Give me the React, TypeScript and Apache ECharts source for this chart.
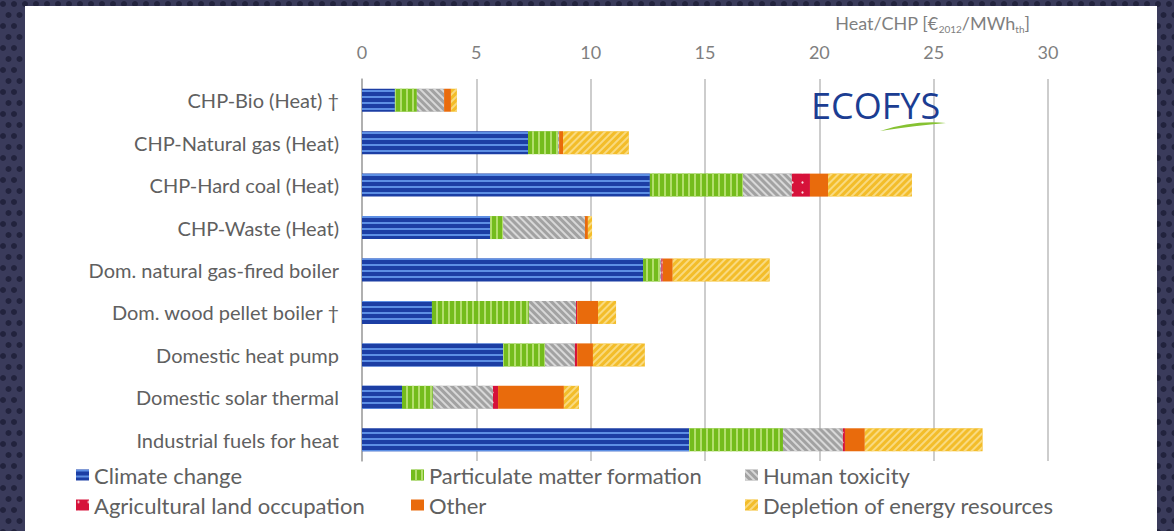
import React, { useEffect, useRef } from "react";
import * as echarts from "echarts";

const categories = [
  "CHP-Bio (Heat) †",
  "CHP-Natural gas (Heat)",
  "CHP-Hard coal (Heat)",
  "CHP-Waste (Heat)",
  "Dom. natural gas-fired boiler",
  "Dom. wood pellet boiler †",
  "Domestic heat pump",
  "Domestic solar thermal",
  "Industrial fuels for heat",
];

const climateChange = [1.44, 7.26, 12.59, 5.6, 12.29, 3.06, 6.17, 1.75, 14.3];
const particulateMatter = [0.96, 1.31, 4.07, 0.57, 0.74, 4.24, 1.83, 1.35, 4.11];
const humanToxicity = [1.19, 0.05, 2.14, 3.58, 0.06, 2.06, 1.31, 2.63, 2.62];
const agriculturalLand = [0, 0, 0.79, 0, 0.06, 0.05, 0.1, 0.22, 0.09];
const other = [0.3, 0.17, 0.79, 0.13, 0.44, 0.91, 0.69, 2.88, 0.87];
const depletion = [0.26, 2.88, 3.67, 0.18, 4.24, 0.79, 2.27, 0.66, 5.15];

const xTicks = [0, 5, 10, 15, 20, 25, 30];

const swooshD = "M0 8 Q 34 -3 66 0 Q 36 2.5 0 8 Z";

echarts.graphic.registerShape("swoosh", echarts.graphic.extendPath(swooshD, {}) as any);

function backgroundDots() {
  const dots: any[] = [];
  const step = 11;
  for (let row = 0; row * step < 540; row++) {
    const y = row * step + 4;
    const off = row % 2 === 0 ? 0 : step / 2;
    for (let x = off + 3; x < 1180; x += step) {
      const inLeft = x < 25;
      const inRight = x > 1157;
      const inTop = y < 6;
      if (inLeft || inRight || inTop) {
        dots.push({ type: "circle", z: -20, silent: true, shape: { cx: x, cy: y, r: 3 }, style: { fill: "#22233d" } });
      }
    }
  }
  return dots;
}

export default function App() {
  const ref = useRef<HTMLDivElement>(null);
  useEffect(() => {
    if (!ref.current) return;
    const chart = echarts.init(ref.current, undefined, { renderer: "svg" });
    const font = "Lato, 'Open Sans', sans-serif";
    const mkSeries = (name: string, data: number[], color: string, decal?: any) => ({
      name,
      type: "bar",
      stack: "total",
      barWidth: 23,
      data,
      itemStyle: decal ? { color, decal } : { color },
      emphasis: { disabled: true },
    });
    const legendBase = {
      top: 459,
      orient: "vertical",
      itemGap: 8,
      itemWidth: 13,
      itemHeight: 11,
      icon: "rect",
      textStyle: { color: "#606060", fontSize: 22, fontFamily: font },
    };
    chart.setOption({
      animation: false,
      backgroundColor: "#3a3b5b",
      title: {
        text: "Heat/CHP [€{sub|2012}/MWh{sub|th}]",
        right: 139,
        top: 6,
        textStyle: {
          fontFamily: font,
          fontSize: 18,
          fontWeight: "normal",
          color: "#7f7f7f",
          lineHeight: 23,
          rich: {
            sub: { fontFamily: font, fontSize: 10, color: "#7f7f7f", lineHeight: 15, verticalAlign: "bottom" },
          },
        },
      },
      graphic: [
        ...backgroundDots(),
        { type: "rect", z: -10, shape: { x: 25, y: 6, width: 1132, height: 525 }, style: { fill: "#ffffff" }, silent: true },
        {
          type: "text",
          x: 811,
          y: 87,
          style: { text: "ECOFYS", fontFamily: "'Open Sans', sans-serif", fontSize: 36, fill: "#1b3d92", fontWeight: "normal" },
          z: 10,
        },
        { type: "swoosh", x: 880, y: 123, style: { fill: "#86c232" }, z: 10 },
      ],
      grid: { left: 362, right: 126, top: 79, bottom: 70, containLabel: false },
      xAxis: {
        type: "value",
        position: "top",
        min: xTicks[0],
        max: xTicks[xTicks.length - 1],
        interval: 5,
        axisLine: { show: false },
        axisTick: { show: false },
        axisLabel: { color: "#7f7f7f", fontSize: 18, fontFamily: font, margin: 18 },
        splitLine: { lineStyle: { color: "#bdbdbd", width: 1.5 } },
      },
      yAxis: {
        type: "category",
        inverse: true,
        data: categories,
        axisLine: { lineStyle: { color: "#a6a6a6", width: 1.5 } },
        axisTick: { show: false },
        axisLabel: { color: "#606060", fontSize: 20, fontFamily: font, margin: 23 },
      },
      legend: [
        { ...legendBase, left: 71, data: ["Climate change", "Agricultural land occupation"] },
        { ...legendBase, left: 406, data: ["Particulate matter formation", "Other"] },
        { ...legendBase, left: 740, data: ["Human toxicity", "Depletion of energy resources"] },
      ],
      series: [
        mkSeries("Climate change", climateChange, "#1c3ea4", {
          symbol: "rect", symbolSize: 1, color: "#5d8fe4", dashArrayX: [1, 0], dashArrayY: [2, 4], rotation: 0,
        }),
        mkSeries("Particulate matter formation", particulateMatter, "#74bc1c", {
          symbol: "rect", symbolSize: 1, color: "#b4de6e", dashArrayX: [1, 0], dashArrayY: [2, 4], rotation: Math.PI / 2,
        }),
        mkSeries("Human toxicity", humanToxicity, "#a2a2a2", {
          symbol: "rect", symbolSize: 1, color: "#d8d8d8", dashArrayX: [1, 0], dashArrayY: [2, 3], rotation: Math.PI / 4,
        }),
        mkSeries("Agricultural land occupation", agriculturalLand, "#d6123a", {
          symbol: "circle", symbolSize: 0.45, color: "rgba(255,255,255,0.85)", dashArrayX: [5, 5], dashArrayY: [5, 5], rotation: 0,
        }),
        mkSeries("Other", other, "#e96b0c"),
        mkSeries("Depletion of energy resources", depletion, "#f3bd2a", {
          symbol: "rect", symbolSize: 1, color: "#f9da80", dashArrayX: [1, 0], dashArrayY: [2, 3], rotation: -Math.PI / 4,
        }),
      ],
    });
    return () => chart.dispose();
  }, []);
  return <div ref={ref} style={{ position: "absolute", left: 0, top: 0, width: 1174, height: 531 }} />;
}
